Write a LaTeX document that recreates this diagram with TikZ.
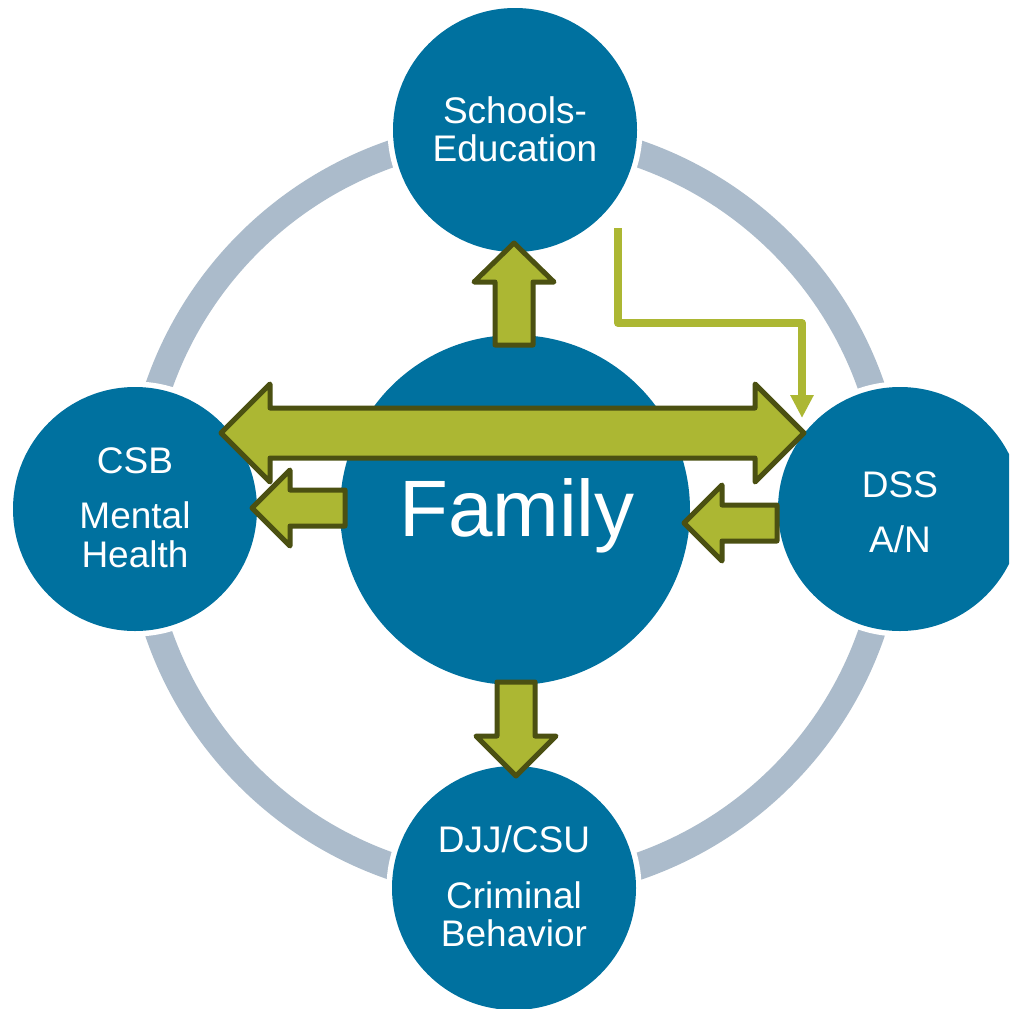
\documentclass[tikz,border=0pt]{standalone}
\usepackage{fontspec}
\setmainfont{Liberation Sans}
\usetikzlibrary{arrows.meta}
\definecolor{cblue}{RGB}{0,113,159}
\definecolor{cring}{RGB}{171,187,203}
\definecolor{cgreen}{RGB}{172,183,51}
\definecolor{cdark}{RGB}{75,80,18}
\begin{document}
\begin{tikzpicture}[x=1pt,y=-1pt,
  ringstyle/.style={draw=cring,line width=27pt},
  sat/.style={circle,minimum size=244pt,inner sep=0pt,fill=cblue,
              preaction={draw=white,line width=11pt}},
  fam/.style={circle,minimum size=350pt,inner sep=0pt,fill=cblue},
  barrow/.style={fill=cgreen,draw=cdark,line width=5pt,line join=round},
  conn/.style={draw=cgreen,line width=8pt,line join=round,
               -{Triangle[width=22pt,length=23pt]}},
  lab/.style={anchor=base,text=white,inner sep=0pt,font=\fontsize{37}{44}\selectfont},
  famlab/.style={anchor=base,text=white,inner sep=0pt,font=\fontsize{80}{96}\selectfont}]
\useasboundingbox (0,0) rectangle (1009,1009);
\clip (0,0) rectangle (1009,1009);
\fill[white] (0,0) rectangle (1009,1009);
% ring
\draw[ringstyle] (515,510) circle[radius=377];
% circles
\node[sat] (top) at (515,130) {};
\node[sat] (left) at (135,509) {};
\node[sat] (right) at (900,509) {};
\node[sat] (bottom) at (514,888) {};
\node[fam] (fam) at (515,510) {};
% block arrows
\draw[barrow] (495,345) -- (495,282) -- (474,282) -- (514,243) -- (554,282) -- (533,282) -- (533,345) -- cycle;
\draw[barrow] (497,682) -- (535,682) -- (535,736) -- (556,736) -- (516,776) -- (476,736) -- (497,736) -- cycle;
\draw[barrow] (270,408) -- (755,408) -- (755,384) -- (804,433) -- (755,482) -- (755,458) -- (270,458) -- (270,482) -- (221,433) -- (270,384) -- cycle;
\draw[barrow] (345,490) -- (290,490) -- (290,470) -- (252,508) -- (290,546) -- (290,526) -- (345,526) -- cycle;
\draw[barrow] (777,505) -- (722,505) -- (722,485) -- (684,523) -- (722,561) -- (722,541) -- (777,541) -- cycle;
% thin connector
\coordinate (ls) at (618,228);
\coordinate (lc) at (802,323);
\coordinate (le) at (802,418);
\draw[conn] (ls) |- (lc) -- (le);
% labels
\node[lab] (t1) at (515,123) {Schools-};
\node[lab] (t2) at (515,161) {Education};
\node[lab] (l1) at (135,473) {CSB};
\node[lab] (l2) at (135,528) {Mental};
\node[lab] (l3) at (135,567) {Health};
\node[lab] (r1) at (900,497) {DSS};
\node[lab] (r2) at (900,552) {A/N};
\node[lab] (b1) at (514,852) {DJJ/CSU};
\node[lab] (b2) at (514,908) {Criminal};
\node[lab] (b3) at (514,946) {Behavior};
\node[famlab] (tf) at (517,536) {Family};
\end{tikzpicture}
\end{document}
